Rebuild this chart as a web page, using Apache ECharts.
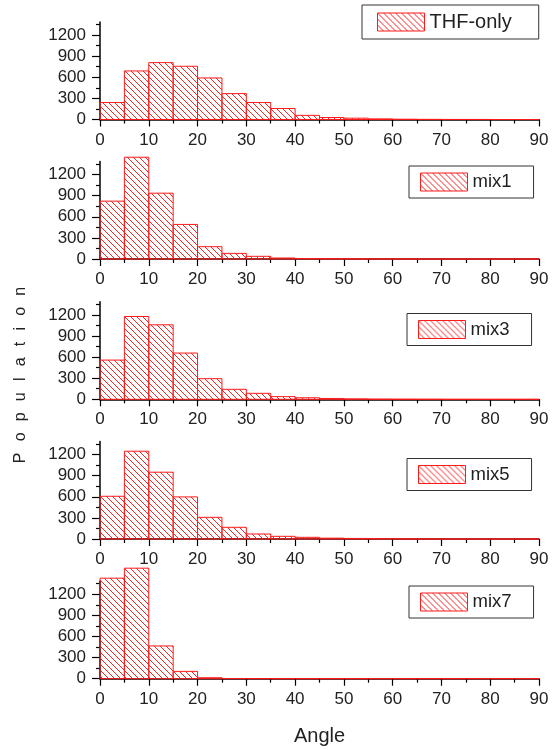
<!DOCTYPE html>
<html>
<head>
<meta charset="utf-8">
<script src="https://cdn.jsdelivr.net/npm/echarts@6/dist/echarts.min.js"></script>
<style>html,body{margin:0;padding:0;background:#fff}#c{width:554px;height:750px}</style>
</head>
<body>
<div id="c"></div>
<script>
// ---- data ----
const binEdges = [0,5,10,15,20,25,30,35,40,45,50,55,60,65,70,75,80,85,90];
const seriesNames = ['THF-only','mix1','mix3','mix5','mix7'];
const thfOnly = [241, 690, 808, 756, 590, 368, 241, 156, 59, 28, 19, 9, 4, 2, 1, 1, 0, 0];
const mix1    = [822, 1446, 935, 491, 175, 80, 38, 14, 7, 4, 2, 1, 1, 0, 0, 0, 0, 0];
const mix3    = [557, 1176, 1058, 657, 293, 142, 85, 38, 22, 12, 6, 3, 2, 1, 0, 0, 0, 0];
const mix5    = [607, 1247, 949, 598, 308, 166, 71, 38, 24, 12, 8, 4, 2, 1, 0, 0, 0, 0];
const mix7    = [1428, 1570, 465, 104, 14, 3, 1, 0, 0, 0, 0, 0, 0, 0, 0, 0, 0, 0];
const xTicks = [0,10,20,30,40,50,60,70,80,90];
const yMajorTicks = [0,300,600,900,1200];
const yMinorTicks = [150,450,750,1050,1350];
const yTitle = 'P\u2002\u2009o\u2002\u2009p\u2002\u2009u\u2002\u2009l\u2002\u2009a\u2002\u2009t\u2002\u2009i\u2002\u2009o\u2002\u2009n';
const xTitle = 'Angle';

const allValues = [thfOnly, mix1, mix3, mix5, mix7];

// ---- layout / style ----
const gridTops = [22, 161.5, 301.8, 441.5, 581.2];
const gridH = 97.5;
const yMax = 1385;
const legendPos = [
  {left: 362, top: 5, padding: [7, 27, 7, 15], fontSize: 20},
  {left: 409, top: 166, padding: [6.5, 22, 6.5, 11], fontSize: 18.5},
  {left: 407, top: 313.5, padding: [6.5, 22, 6.5, 11], fontSize: 18.5},
  {left: 407, top: 458.5, padding: [6.5, 22, 6.5, 11], fontSize: 18.5},
  {left: 409, top: 586, padding: [6.5, 22, 6.5, 11], fontSize: 18.5}
];
const FONT = 'Liberation Sans, Arial, Helvetica, sans-serif';

function makeHatch() {
  const s = 6;
  const cv = document.createElement('canvas');
  cv.width = s; cv.height = s;
  const ctx = cv.getContext('2d');
  ctx.strokeStyle = 'rgba(255,20,20,0.95)';
  ctx.lineWidth = 1;
  ctx.beginPath();
  ctx.moveTo(-1, -1); ctx.lineTo(s + 1, s + 1);
  ctx.moveTo(s - 1, -1); ctx.lineTo(s + 1, 1);
  ctx.moveTo(-1, s - 1); ctx.lineTo(1, s + 1);
  ctx.stroke();
  return cv;
}
const hatch = {image: makeHatch(), repeat: 'repeat'};

const grids = [], xAxes = [], yAxes = [], series = [], legends = [];
for (let i = 0; i < 5; i++) {
  grids.push({left: 100, width: 439, top: gridTops[i], height: gridH, containLabel: false});
  const last = i === 4;
  xAxes.push({
    type: 'value', gridIndex: i, min: 0, max: 90, interval: 10,
    axisLine: {show: true, lineStyle: {color: '#000', width: 1.5}},
    axisTick: {show: true, length: 7, lineStyle: {color: '#000', width: 1.2}},
    minorTick: {show: true, splitNumber: 2, length: 4, lineStyle: {color: '#000', width: 1.2}},
    splitLine: {show: false},
    axisLabel: {fontSize: 17, color: '#222', fontFamily: FONT, margin: 12, formatter: v => String(v)},
    name: last ? xTitle : '', nameLocation: 'middle', nameGap: 48,
    nameTextStyle: {fontSize: 20, color: '#222', fontFamily: FONT}
  });
  yAxes.push({
    type: 'value', gridIndex: i, min: 0, max: yMax, position: 'left',
    axisLine: {show: true, lineStyle: {color: '#000', width: 1.5}},
    axisTick: {show: true, length: 8, customValues: yMajorTicks, lineStyle: {color: '#000', width: 1.2}},
    axisLabel: {show: true, customValues: yMajorTicks, fontSize: 17, color: '#222', fontFamily: FONT, margin: 14,
      formatter: v => String(v)},
    splitLine: {show: false}
  });
  yAxes.push({
    type: 'value', gridIndex: i, min: 0, max: yMax, position: 'left', offset: 0,
    axisLine: {show: false},
    axisTick: {show: true, length: 4, customValues: yMinorTicks, lineStyle: {color: '#000', width: 1.2}},
    axisLabel: {show: false},
    splitLine: {show: false}
  });
  const vals = allValues[i];
  const data = vals.map((v, k) => [binEdges[k], binEdges[k + 1], v]);
  series.push({
    type: 'custom', name: seriesNames[i], xAxisIndex: i, yAxisIndex: 2 * i,
    itemStyle: {color: hatch, borderColor: '#ff1a1a', borderWidth: 1},
    renderItem: function (params, api) {
      const x0 = api.value(0), x1 = api.value(1), y = api.value(2);
      const p0 = api.coord([x0, 0]);
      const p1 = api.coord([x1, y]);
      return {
        type: 'rect',
        shape: {x: p0[0], y: p1[1], width: p1[0] - p0[0], height: p0[1] - p1[1]},
        style: {fill: hatch, stroke: '#ff1a1a', lineWidth: 1}
      };
    },
    encode: {x: [0, 1], y: 2},
    data: data
  });
  const lp = legendPos[i];
  legends.push({
    left: lp.left, top: lp.top, padding: lp.padding, orient: 'horizontal',
    borderColor: '#333', borderWidth: 1, backgroundColor: '#fff',
    itemWidth: 47, itemHeight: 18, selectedMode: false,
    textStyle: {fontSize: lp.fontSize, color: '#222', fontFamily: FONT, lineHeight: 18},
    data: [{name: seriesNames[i], icon: 'rect',
      itemStyle: {color: hatch, borderColor: '#ff1a1a', borderWidth: 1}}]
  });
}

const chart = echarts.init(document.getElementById('c'), null, {renderer: 'canvas'});
chart.setOption({
  animation: false,
  backgroundColor: '#fff',
  grid: grids, xAxis: xAxes, yAxis: yAxes, series: series, legend: legends,
  graphic: [{
    type: 'text', left: 13, top: 'middle', rotation: Math.PI / 2,
    style: {text: yTitle, font: '16px ' + FONT, fill: '#222'}
  }]
});
</script>
</body>
</html>
